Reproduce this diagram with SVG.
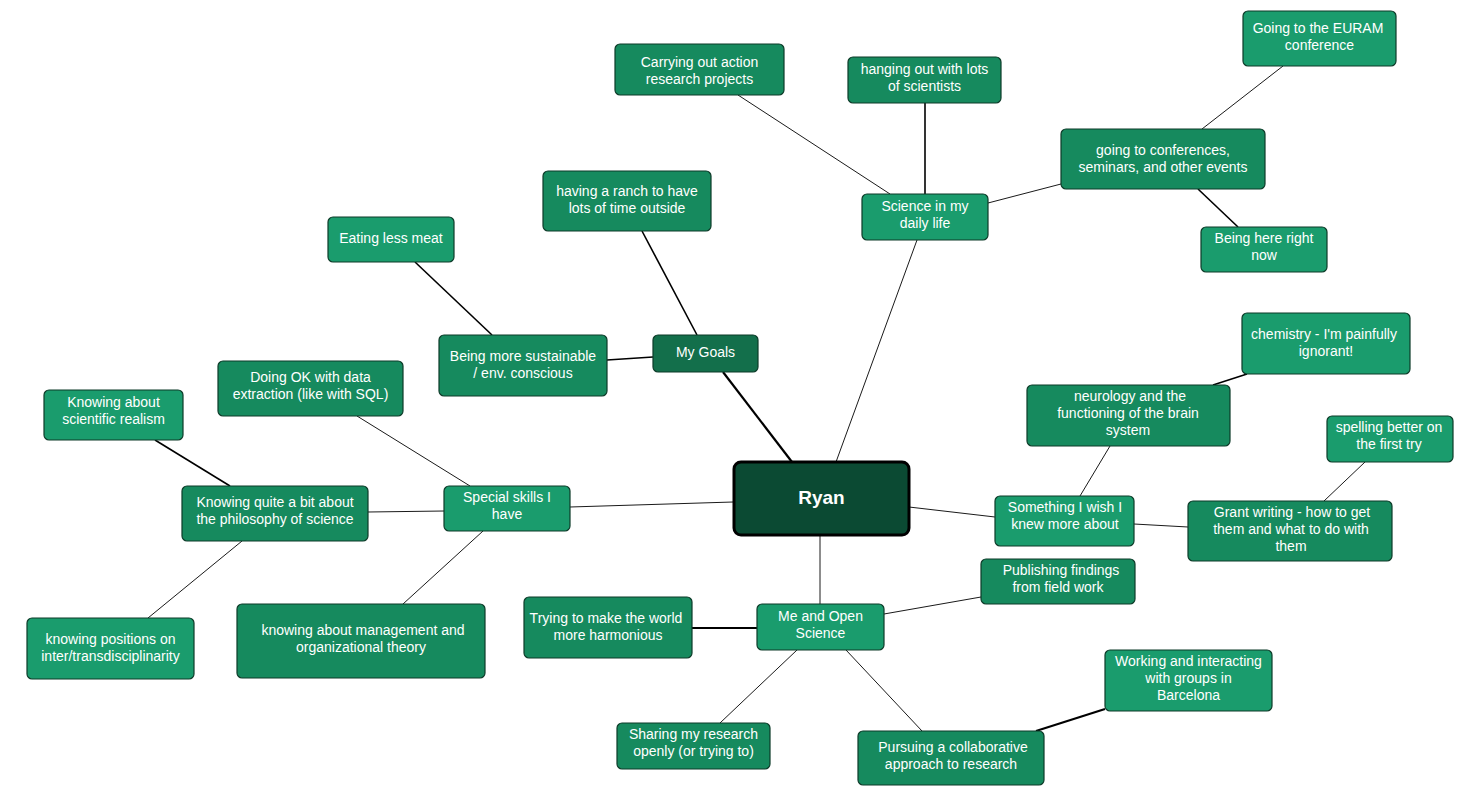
<svg xmlns="http://www.w3.org/2000/svg" width="1463" height="797" viewBox="0 0 1463 797">
<style>
.n rect{stroke:#0d3b29;stroke-width:1.2}
.l rect{fill:#1a9c6d}
.m rect{fill:#168a5e}
.n text{font-family:"Liberation Sans",Arial,sans-serif;font-size:14px;fill:#ffffff;text-anchor:middle}
.c line{stroke:#1a1a1a;stroke-width:1}
.c line.t{stroke:#000;stroke-width:1.6}
.c line.k{stroke:#000;stroke-width:2.2}
</style>
<rect width="1463" height="797" fill="#ffffff"/>
<g id="connectors" class="c">
<line class="k" x1="792" y1="462" x2="723" y2="372"/>
<line x1="836" y1="462" x2="917" y2="240"/>
<line x1="733" y1="502" x2="570" y2="507"/>
<line x1="909" y1="507" x2="995" y2="517"/>
<line x1="820" y1="536" x2="820" y2="604"/>
<line class="t" x1="697" y1="335" x2="642" y2="231"/>
<line class="t" x1="653" y1="357" x2="607" y2="360"/>
<line class="t" x1="492" y1="335" x2="415" y2="262"/>
<line x1="890" y1="194" x2="738" y2="95"/>
<line class="t" x1="925" y1="194" x2="925" y2="103"/>
<line x1="988" y1="203" x2="1061" y2="184"/>
<line x1="1202" y1="129" x2="1283" y2="66"/>
<line class="t" x1="1198" y1="189" x2="1238" y2="227"/>
<line x1="470" y1="486" x2="357" y2="416"/>
<line x1="444" y1="511" x2="368" y2="512"/>
<line class="t" x1="230" y1="486" x2="155" y2="440"/>
<line x1="242" y1="541" x2="148" y2="618"/>
<line x1="483" y1="531" x2="403" y2="604"/>
<line x1="1110" y1="446" x2="1080" y2="496"/>
<line class="t" x1="1213" y1="385" x2="1247" y2="374"/>
<line x1="1134" y1="524" x2="1188" y2="527"/>
<line x1="1324" y1="501" x2="1365" y2="462"/>
<line x1="884" y1="614" x2="981" y2="597"/>
<line class="k" x1="757" y1="628" x2="692" y2="628"/>
<line x1="797" y1="650" x2="720" y2="723"/>
<line x1="846" y1="650" x2="922" y2="731"/>
<line class="k" x1="1036" y1="731" x2="1105" y2="709"/>
</g>
<g id="ryan"><rect x="734" y="462" width="175" height="73" rx="7" fill="#0b4a33" stroke="#000" stroke-width="3"/><text x="821.5" y="504" font-family="'Liberation Sans',Arial,sans-serif" font-size="19" font-weight="bold" fill="#fff" text-anchor="middle">Ryan</text></g>
<g id="my-goals" class="n"><rect x="653" y="335" width="105" height="37" rx="5" fill="#136f4b"/><text x="705.5" y="357">My Goals</text></g>
<g id="ranch" class="n m"><rect x="543" y="171" width="168" height="60" rx="5"/><text x="627" y="196">having a ranch to have</text><text x="627" y="213">lots of time outside</text></g>
<g id="eating" class="n l"><rect x="328" y="217" width="126" height="45" rx="5"/><text x="391" y="243">Eating less meat</text></g>
<g id="sustainable" class="n m"><rect x="439" y="335" width="168" height="61" rx="5"/><text x="523" y="361">Being more sustainable</text><text x="523" y="378">/ env. conscious</text></g>
<g id="science-daily" class="n l"><rect x="862" y="194" width="126" height="46" rx="5"/><text x="925" y="211">Science in my</text><text x="925" y="228">daily life</text></g>
<g id="action-research" class="n m"><rect x="615" y="44" width="169" height="51" rx="5"/><text x="699.5" y="67">Carrying out action</text><text x="699.5" y="84">research projects</text></g>
<g id="hanging-out" class="n m"><rect x="848" y="57" width="153" height="46" rx="5"/><text x="924.5" y="74">hanging out with lots</text><text x="924.5" y="91">of scientists</text></g>
<g id="conferences" class="n m"><rect x="1061" y="129" width="204" height="60" rx="5"/><text x="1163" y="155">going to conferences,</text><text x="1163" y="172">seminars, and other events</text></g>
<g id="euram" class="n l"><rect x="1243" y="11" width="153" height="55" rx="5"/><text x="1318" y="33">Going to the EURAM</text><text x="1319.5" y="50">conference</text></g>
<g id="being-here" class="n l"><rect x="1201" y="227" width="126" height="45" rx="5"/><text x="1264" y="243">Being here right</text><text x="1264" y="260">now</text></g>
<g id="special-skills" class="n l"><rect x="444" y="486" width="126" height="45" rx="5"/><text x="507" y="502">Special skills I</text><text x="507" y="519">have</text></g>
<g id="data-extraction" class="n m"><rect x="218" y="361" width="185" height="55" rx="5"/><text x="310.5" y="382">Doing OK with data</text><text x="310.5" y="399">extraction (like with SQL)</text></g>
<g id="realism" class="n l"><rect x="44" y="390" width="139" height="50" rx="5"/><text x="113.5" y="407">Knowing about</text><text x="113.5" y="424">scientific realism</text></g>
<g id="philosophy" class="n m"><rect x="182" y="486" width="186" height="55" rx="5"/><text x="275" y="507">Knowing quite a bit about</text><text x="275" y="524">the philosophy of science</text></g>
<g id="positions" class="n l"><rect x="27" y="618" width="167" height="61" rx="5"/><text x="110.5" y="644">knowing positions on</text><text x="110.5" y="661">inter/transdisciplinarity</text></g>
<g id="management" class="n m"><rect x="237" y="604" width="248" height="74" rx="5"/><text x="363" y="635">knowing about management and</text><text x="361" y="652">organizational theory</text></g>
<g id="wish" class="n l"><rect x="995" y="496" width="139" height="50" rx="5"/><text x="1065" y="512">Something I wish I</text><text x="1065" y="529">knew more about</text></g>
<g id="neurology" class="n m"><rect x="1027" y="385" width="203" height="61" rx="5"/><text x="1130" y="401">neurology and the</text><text x="1128" y="418">functioning of the brain</text><text x="1128" y="435">system</text></g>
<g id="chemistry" class="n l"><rect x="1242" y="313" width="168" height="61" rx="5"/><text x="1324" y="339">chemistry - I'm painfully</text><text x="1326" y="356">ignorant!</text></g>
<g id="grant" class="n m"><rect x="1188" y="501" width="204" height="60" rx="5"/><text x="1292" y="517">Grant writing - how to get</text><text x="1291" y="534">them and what to do with</text><text x="1291" y="551">them</text></g>
<g id="spelling" class="n l"><rect x="1327" y="416" width="126" height="46" rx="5"/><text x="1389" y="432">spelling better on</text><text x="1389" y="449">the first try</text></g>
<g id="open-science" class="n l"><rect x="757" y="604" width="127" height="46" rx="5"/><text x="820.5" y="621">Me and Open</text><text x="820.5" y="638">Science</text></g>
<g id="publishing" class="n m"><rect x="981" y="559" width="154" height="45" rx="5"/><text x="1061" y="575">Publishing findings</text><text x="1058" y="592">from field work</text></g>
<g id="harmonious" class="n m"><rect x="524" y="597" width="168" height="61" rx="5"/><text x="606" y="623">Trying to make the world</text><text x="608" y="640">more harmonious</text></g>
<g id="barcelona" class="n l"><rect x="1105" y="650" width="167" height="61" rx="5"/><text x="1188.5" y="666">Working and interacting</text><text x="1188.5" y="683">with groups in</text><text x="1188.5" y="700">Barcelona</text></g>
<g id="sharing" class="n m"><rect x="617" y="723" width="153" height="46" rx="5"/><text x="693.5" y="739">Sharing my research</text><text x="693.5" y="756">openly (or trying to)</text></g>
<g id="collaborative" class="n m"><rect x="858" y="731" width="186" height="54" rx="5"/><text x="953" y="752">Pursuing a collaborative</text><text x="951" y="769">approach to research</text></g>
</svg>
